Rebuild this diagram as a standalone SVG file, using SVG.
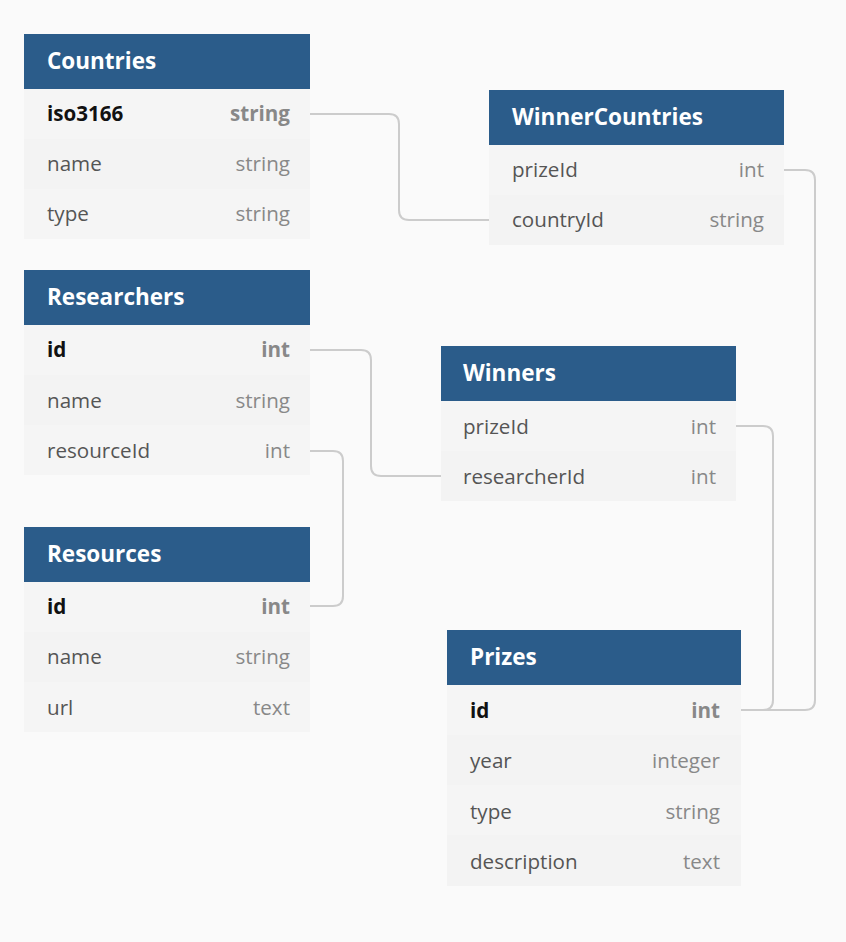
<svg xmlns="http://www.w3.org/2000/svg" width="846" height="942" viewBox="0 0 846 942">
<style>
.bg{fill:#fafafa}
.hd{fill:#2b5c8a}
.r1{fill:#f5f5f5}
.r2{fill:#f3f3f3}
.t{font-family:"Open Sans","Noto Sans",sans-serif;font-size:22.5px;font-weight:700;fill:#ffffff}
.n{font-family:"Open Sans","Noto Sans",sans-serif;font-size:20.6px;fill:#555555}
.ty{font-family:"Open Sans","Noto Sans",sans-serif;font-size:20.6px;fill:#888888;text-anchor:end}
.pk{font-weight:700;fill:#111111}
.pkt{font-weight:700}
.c{fill:none;stroke:#cccccc;stroke-width:2}
</style>
<rect class="bg" x="0" y="0" width="846" height="942"/>
<g id="connectors">
<path class="c" d="M310,114 H389 Q399,114 399,124 V210 Q399,220 409,220 H489"/>
<path class="c" d="M784,170 H805 Q815,170 815,180 V700 Q815,710 805,710 H741"/>
<path class="c" d="M736,426 H763 Q773,426 773,436 V700 Q773,710 763,710 H741"/>
<path class="c" d="M310,350 H361 Q371,350 371,360 V466 Q371,476 381,476 H441"/>
<path class="c" d="M310,451 H333 Q343,451 343,461 V596 Q343,606 333,606 H310"/>
</g>
<g id="Countries">
<rect class="hd" x="24" y="34" width="286" height="55"/>
<rect class="r1" x="24" y="89" width="286" height="50"/>
<rect class="r2" x="24" y="139" width="286" height="50"/>
<rect class="r1" x="24" y="189" width="286" height="50"/>
<text class="t" x="47" y="69">Countries</text>
<text class="n pk" x="47" y="121">iso3166</text><text class="ty pkt" x="290" y="121">string</text>
<text class="n" x="47" y="171">name</text><text class="ty" x="290" y="171">string</text>
<text class="n" x="47" y="221">type</text><text class="ty" x="290" y="221">string</text>
</g>
<g id="WinnerCountries">
<rect class="hd" x="489" y="90" width="295" height="55"/>
<rect class="r1" x="489" y="145" width="295" height="50"/>
<rect class="r2" x="489" y="195" width="295" height="50"/>
<text class="t" x="512" y="125">WinnerCountries</text>
<text class="n" x="512" y="177">prizeId</text><text class="ty" x="764" y="177">int</text>
<text class="n" x="512" y="227">countryId</text><text class="ty" x="764" y="227">string</text>
</g>
<g id="Researchers">
<rect class="hd" x="24" y="270" width="286" height="55"/>
<rect class="r1" x="24" y="325" width="286" height="50"/>
<rect class="r2" x="24" y="375" width="286" height="50"/>
<rect class="r1" x="24" y="425" width="286" height="50"/>
<text class="t" x="47" y="305">Researchers</text>
<text class="n pk" x="47" y="357">id</text><text class="ty pkt" x="290" y="357">int</text>
<text class="n" x="47" y="408">name</text><text class="ty" x="290" y="408">string</text>
<text class="n" x="47" y="458">resourceId</text><text class="ty" x="290" y="458">int</text>
</g>
<g id="Winners">
<rect class="hd" x="441" y="346" width="295" height="55"/>
<rect class="r1" x="441" y="401" width="295" height="50"/>
<rect class="r2" x="441" y="451" width="295" height="50"/>
<text class="t" x="463" y="381">Winners</text>
<text class="n" x="463" y="434">prizeId</text><text class="ty" x="716" y="434">int</text>
<text class="n" x="463" y="484">researcherId</text><text class="ty" x="716" y="484">int</text>
</g>
<g id="Resources">
<rect class="hd" x="24" y="527" width="286" height="55"/>
<rect class="r1" x="24" y="582" width="286" height="50"/>
<rect class="r2" x="24" y="632" width="286" height="50"/>
<rect class="r1" x="24" y="682" width="286" height="50"/>
<text class="t" x="47" y="562">Resources</text>
<text class="n pk" x="47" y="614">id</text><text class="ty pkt" x="290" y="614">int</text>
<text class="n" x="47" y="664">name</text><text class="ty" x="290" y="664">string</text>
<text class="n" x="47" y="715">url</text><text class="ty" x="290" y="715">text</text>
</g>
<g id="Prizes">
<rect class="hd" x="447" y="630" width="294" height="55"/>
<rect class="r1" x="447" y="685" width="294" height="50"/>
<rect class="r2" x="447" y="735" width="294" height="50"/>
<rect class="r1" x="447" y="785" width="294" height="50"/>
<rect class="r2" x="447" y="835" width="294" height="51"/>
<text class="t" x="470" y="665">Prizes</text>
<text class="n pk" x="470" y="718">id</text><text class="ty pkt" x="720" y="718">int</text>
<text class="n" x="470" y="768">year</text><text class="ty" x="720" y="768">integer</text>
<text class="n" x="470" y="819">type</text><text class="ty" x="720" y="819">string</text>
<text class="n" x="470" y="869">description</text><text class="ty" x="720" y="869">text</text>
</g>
</svg>
